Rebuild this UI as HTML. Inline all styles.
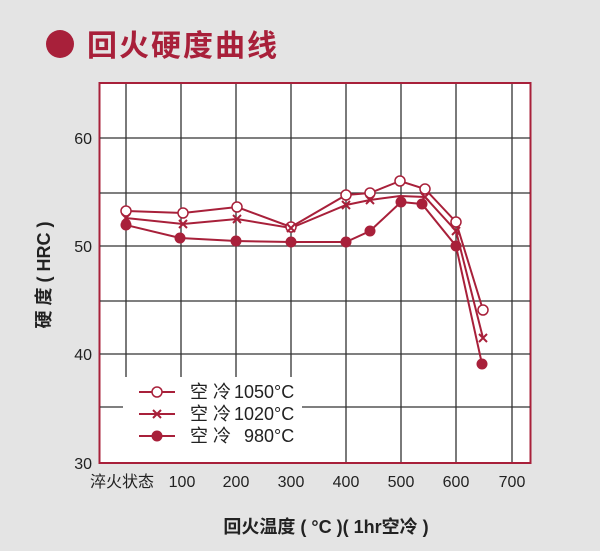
<!DOCTYPE html>
<html><head><meta charset="utf-8"><style>
body{margin:0;background:#e4e4e4;}
svg{display:block}
text{font-family:"Liberation Sans","Noto Sans CJK SC",sans-serif;}
</style></head><body>
<svg width="600" height="551" viewBox="0 0 600 551">
<rect width="600" height="551" fill="#e4e4e4"/>
<circle cx="60" cy="44" r="14" fill="#a8203a"/>
<text x="87" y="56" font-size="30" font-weight="bold" fill="#a8203a" font-family="Noto Sans CJK SC, sans-serif" letter-spacing="2">回火硬度曲线</text>
<rect x="99.5" y="83" width="431" height="380" fill="#fff" stroke="#a8203a" stroke-width="2"/>
<g stroke="#333" stroke-width="1.3">
<line x1="126" y1="84" x2="126" y2="462"/><line x1="181" y1="84" x2="181" y2="462"/>
<line x1="236" y1="84" x2="236" y2="462"/><line x1="291" y1="84" x2="291" y2="462"/>
<line x1="346" y1="84" x2="346" y2="462"/><line x1="401" y1="84" x2="401" y2="462"/>
<line x1="456" y1="84" x2="456" y2="462"/><line x1="512" y1="84" x2="512" y2="462"/>
<line x1="100" y1="138" x2="530" y2="138"/><line x1="100" y1="193" x2="530" y2="193"/>
<line x1="100" y1="246" x2="530" y2="246"/><line x1="100" y1="301" x2="530" y2="301"/>
<line x1="100" y1="354" x2="530" y2="354"/><line x1="100" y1="407" x2="530" y2="407"/>
</g>
<rect x="123" y="377" width="179" height="85" fill="#fff"/>
<g fill="none" stroke="#a8203a" stroke-width="2">
<polyline points="126,211 183,213 237,207 291,227 346,195 370,193 400,181 425,189 456,222 483,310"/>
<polyline points="126,218 183,224 237,219 291,228 346,205 370,200 400,196 425,197 456,231 483,338"/>
<polyline points="126,225 180,238 236,241 291,242 346,242 370,231 401,202 422,204 456,246 482,364"/>
</g>
<g fill="#fff" stroke="#a8203a" stroke-width="1.5">
<circle cx="126" cy="211" r="5"/><circle cx="183" cy="213" r="5"/><circle cx="237" cy="207" r="5"/><circle cx="291" cy="227" r="5"/><circle cx="346" cy="195" r="5"/><circle cx="370" cy="193" r="5"/><circle cx="400" cy="181" r="5"/><circle cx="425" cy="189" r="5"/><circle cx="456" cy="222" r="5"/><circle cx="483" cy="310" r="5"/>
</g>
<g stroke="#a8203a" stroke-width="2" fill="none">
<path d="M122,214l8,8m0,-8l-8,8M179,220l8,8m0,-8l-8,8M233,215l8,8m0,-8l-8,8M287,224l8,8m0,-8l-8,8M342,201l8,8m0,-8l-8,8M366,196l8,8m0,-8l-8,8M421,193l8,8m0,-8l-8,8M452,227l8,8m0,-8l-8,8M479,334l8,8m0,-8l-8,8"/>
</g>
<g fill="#a8203a">
<circle cx="126" cy="225" r="5.5"/><circle cx="180" cy="238" r="5.5"/><circle cx="236" cy="241" r="5.5"/><circle cx="291" cy="242" r="5.5"/><circle cx="346" cy="242" r="5.5"/><circle cx="370" cy="231" r="5.5"/><circle cx="401" cy="202" r="5.5"/><circle cx="422" cy="204" r="5.5"/><circle cx="456" cy="246" r="5.5"/><circle cx="482" cy="364" r="5.5"/>
</g>
<g stroke="#a8203a" stroke-width="2">
<line x1="139" y1="392" x2="175" y2="392"/><line x1="139" y1="414" x2="175" y2="414"/><line x1="139" y1="436" x2="175" y2="436"/>
</g>
<circle cx="157" cy="392" r="5" fill="#fff" stroke="#a8203a" stroke-width="1.5"/>
<path d="M153,410l8,8m0,-8l-8,8" stroke="#a8203a" stroke-width="2"/>
<circle cx="157" cy="436" r="5.5" fill="#a8203a"/>
<g font-size="18" fill="#222">
<text x="190" y="398">空 冷</text><text x="234" y="398">1050°C</text>
<text x="190" y="420">空 冷</text><text x="234" y="420">1020°C</text>
<text x="190" y="442">空 冷</text><text x="244" y="442">980°C</text>
</g>
<g font-size="16" fill="#222" text-anchor="end">
<text x="92" y="144">60</text><text x="92" y="252">50</text><text x="92" y="360">40</text><text x="92" y="469">30</text>
</g>
<g font-size="16" fill="#222" text-anchor="middle">
<text x="122" y="487">淬火状态</text><text x="182" y="487">100</text><text x="236" y="487">200</text><text x="291" y="487">300</text><text x="346" y="487">400</text><text x="401" y="487">500</text><text x="456" y="487">600</text><text x="512" y="487">700</text>
</g>
<text x="326" y="533" font-size="18" font-weight="bold" fill="#222" text-anchor="middle">回火温度 ( °C )( 1hr空冷 )</text>
<text transform="translate(50,275) rotate(-90)" font-size="18" font-weight="bold" fill="#222" text-anchor="middle">硬   度 ( HRC )</text>
</svg>
</body></html>
